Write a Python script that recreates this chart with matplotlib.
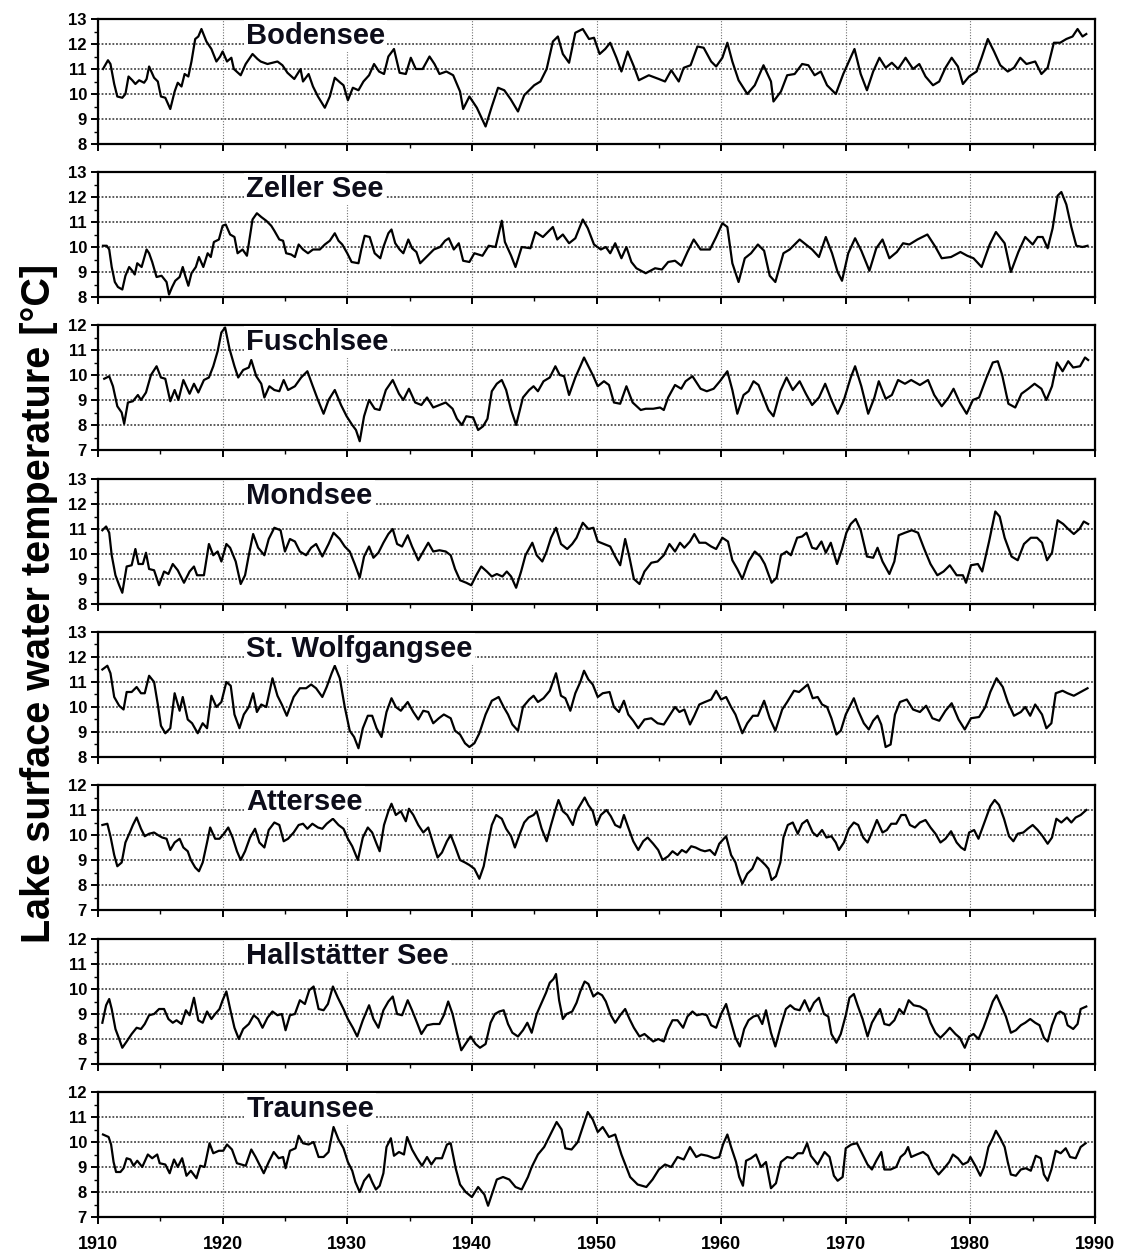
import matplotlib
matplotlib.use("Agg")
import matplotlib.pyplot as plt
from matplotlib.ticker import MultipleLocator

plt.rcParams['font.family'] = ['Liberation Sans', 'DejaVu Sans']

# ---- data (year, smoothed surface temperature in deg C) ----
bod_years = [1910.4, 1910.8, 1911.0, 1911.3, 1911.55, 1911.95, 1912.2, 1912.45, 1912.75, 1913.0,
             1913.3, 1913.7, 1913.9, 1914.1, 1914.5, 1914.8, 1915.05, 1915.4, 1915.8, 1916.15,
             1916.4, 1916.7, 1916.95, 1917.25, 1917.5, 1917.8, 1918.05, 1918.3, 1918.7, 1919.1,
             1919.5, 1919.8, 1920.0, 1920.35, 1920.7, 1920.9, 1921.45, 1921.85, 1922.4, 1922.8,
             1923.05, 1923.6, 1924.4, 1924.8, 1925.2, 1925.75, 1926.25, 1926.45, 1926.9, 1927.25,
             1927.65, 1928.2, 1928.6, 1929.0, 1929.45, 1929.7, 1930.05, 1930.45, 1930.9, 1931.3,
             1931.75, 1932.15, 1932.55, 1932.95, 1933.3, 1933.75, 1934.2, 1934.7, 1935.1, 1935.5,
             1936.05, 1936.6, 1937.0, 1937.4, 1937.95, 1938.5, 1939.05, 1939.3, 1939.8, 1940.4,
             1941.1, 1941.6, 1942.1, 1942.6, 1943.1, 1943.7, 1944.2, 1945.0, 1945.5, 1946.0,
             1946.5, 1946.9, 1947.3, 1947.8, 1948.3, 1948.9, 1949.4, 1949.8, 1950.25, 1950.7,
             1951.1, 1951.6, 1952.0, 1952.5, 1953.0, 1953.4, 1954.2, 1955.0, 1955.5, 1956.0,
             1956.6, 1957.0, 1957.55, 1958.1, 1958.6, 1959.2, 1959.6, 1960.1, 1960.5, 1960.9,
             1961.4, 1962.1, 1962.7, 1963.4, 1964.0, 1964.2, 1964.8, 1965.3, 1965.9, 1966.5,
             1967.0, 1967.5, 1968.0, 1968.5, 1969.2, 1969.8, 1970.3, 1970.7, 1971.2, 1971.7,
             1972.2, 1972.7, 1973.2, 1973.7, 1974.2, 1974.8, 1975.4, 1975.9, 1976.4, 1977.0,
             1977.5, 1978.0, 1978.5, 1979.0, 1979.4, 1979.9, 1980.5, 1980.9, 1981.4, 1981.9,
             1982.4, 1983.0, 1983.5, 1984.0, 1984.5, 1985.2, 1985.7, 1986.2, 1986.7, 1987.2,
             1987.7, 1988.2, 1988.6, 1989.0, 1989.3]
bod_temp = [11.0, 11.35, 11.2, 10.4, 9.9, 9.85, 10.0, 10.7, 10.55, 10.4,
            10.55, 10.45, 10.6, 11.1, 10.65, 10.5, 9.9, 9.85, 9.4, 10.1,
            10.45, 10.3, 10.8, 10.7, 11.3, 12.2, 12.3, 12.6, 12.1, 11.8,
            11.3, 11.5, 11.7, 11.3, 11.45, 11.0, 10.75, 11.2, 11.6, 11.4,
            11.3, 11.2, 11.3, 11.15, 10.85, 10.6, 11.0, 10.5, 10.8, 10.3,
            9.9, 9.45, 9.9, 10.65, 10.45, 10.35, 9.75, 10.25, 10.15, 10.5,
            10.75, 11.2, 10.9, 10.8, 11.5, 11.8, 10.85, 10.8, 11.45, 11.0,
            11.0, 11.5, 11.2, 10.8, 10.9, 10.75, 10.1, 9.4, 9.9, 9.45,
            8.7, 9.5, 10.25, 10.15, 9.8, 9.3, 9.95, 10.35, 10.5, 11.0,
            12.1, 12.3, 11.6, 11.25, 12.45, 12.6, 12.2, 12.25, 11.6, 11.8,
            12.05, 11.45, 10.9, 11.7, 11.1, 10.55, 10.75, 10.6, 10.5, 10.95,
            10.5, 11.05, 11.15, 11.9, 11.85, 11.3, 11.1, 11.45, 12.05, 11.3,
            10.55, 10.0, 10.35, 11.15, 10.5, 9.7, 10.1, 10.75, 10.8, 11.2,
            11.15, 10.75, 10.9, 10.35, 10.0, 10.8, 11.35, 11.8, 10.8, 10.15,
            10.9, 11.45, 11.05, 11.25, 11.0, 11.45, 11.0, 11.2, 10.7, 10.35,
            10.5, 11.05, 11.45, 11.1, 10.4, 10.7, 10.9, 11.45, 12.2, 11.7,
            11.15, 10.9, 11.05, 11.45, 11.2, 11.3, 10.8, 11.05, 12.05, 12.05,
            12.2, 12.3, 12.6, 12.3, 12.4]

zel_years = [1910.4, 1910.7, 1910.9, 1911.1, 1911.35, 1911.6, 1911.95, 1912.2, 1912.5, 1912.75,
             1912.95, 1913.15, 1913.5, 1913.9, 1914.1, 1914.35, 1914.7, 1915.1, 1915.5, 1915.7,
             1915.95, 1916.2, 1916.55, 1916.8, 1917.0, 1917.25, 1917.5, 1917.85, 1918.1, 1918.45,
             1918.8, 1919.05, 1919.3, 1919.7, 1920.0, 1920.25, 1920.6, 1920.95, 1921.2, 1921.6,
             1921.95, 1922.15, 1922.4, 1922.75, 1923.1, 1923.5, 1923.9, 1924.15, 1924.55, 1924.85,
             1925.1, 1925.5, 1925.8, 1926.1, 1926.45, 1926.85, 1927.25, 1927.8, 1928.2, 1928.6,
             1929.0, 1929.3, 1929.6, 1930.0, 1930.35, 1930.9, 1931.15, 1931.4, 1931.8, 1932.2,
             1932.65, 1932.9, 1933.3, 1933.55, 1933.85, 1934.2, 1934.5, 1934.9, 1935.2, 1935.55,
             1935.85, 1936.25, 1936.65, 1936.95, 1937.45, 1937.85, 1938.15, 1938.55, 1938.95, 1939.3,
             1939.8, 1940.2, 1940.85, 1941.35, 1941.9, 1942.4, 1942.65, 1943.15, 1943.5, 1944.0,
             1944.7, 1945.1, 1945.7, 1946.1, 1946.5, 1946.85, 1947.3, 1947.8, 1948.3, 1948.9,
             1949.3, 1949.8, 1950.35, 1950.75, 1951.1, 1951.5, 1952.0, 1952.4, 1952.8, 1953.2,
             1953.95, 1954.7, 1955.25, 1955.75, 1956.3, 1956.8, 1957.3, 1957.8, 1958.35, 1959.1,
             1959.6, 1960.1, 1960.5, 1960.9, 1961.4, 1961.9, 1962.4, 1962.95, 1963.45, 1963.9,
             1964.35, 1965.0, 1965.5, 1966.3, 1966.8, 1967.3, 1967.85, 1968.4, 1968.9, 1969.35,
             1969.7, 1970.2, 1970.75, 1971.25, 1971.9, 1972.45, 1972.95, 1973.5, 1974.1, 1974.6,
             1975.1, 1975.75, 1976.55, 1977.2, 1977.7, 1978.45, 1979.2, 1979.75, 1980.25, 1980.9,
             1981.55, 1982.05, 1982.75, 1983.25, 1983.85, 1984.4, 1985.0, 1985.4, 1985.8, 1986.2,
             1986.6, 1987.0, 1987.3, 1987.7, 1988.1, 1988.5, 1989.0, 1989.4]
zel_temp = [10.05, 10.05, 9.9, 9.2, 8.6, 8.4, 8.3, 8.85, 9.2, 9.05,
            8.9, 9.35, 9.2, 9.9, 9.75, 9.4, 8.8, 8.85, 8.6, 8.1,
            8.4, 8.65, 8.8, 9.2, 8.85, 8.45, 8.95, 9.2, 9.6, 9.2,
            9.75, 9.6, 10.2, 10.3, 10.85, 10.9, 10.5, 10.4, 9.75, 9.9,
            9.65, 10.3, 11.1, 11.35, 11.2, 11.05, 10.85, 10.65, 10.3, 10.25,
            9.75, 9.7, 9.6, 10.1, 9.9, 9.75, 9.9, 9.9, 10.1, 10.25,
            10.55, 10.25, 10.1, 9.75, 9.4, 9.35, 9.95, 10.45, 10.4, 9.75,
            9.55, 10.0, 10.55, 10.7, 10.15, 9.9, 9.75, 10.3, 9.95, 9.8,
            9.35, 9.55, 9.75, 9.9, 10.0, 10.25, 10.35, 9.9, 10.15, 9.45,
            9.4, 9.75, 9.65, 10.05, 10.0, 11.05, 10.2, 9.65, 9.2, 10.0,
            9.95, 10.6, 10.4, 10.6, 10.8, 10.3, 10.5, 10.15, 10.35, 11.1,
            10.75, 10.1, 9.9, 10.0, 9.75, 10.15, 9.55, 10.0, 9.4, 9.15,
            8.95, 9.15, 9.1, 9.4, 9.45, 9.25, 9.8, 10.3, 9.9, 9.9,
            10.4, 10.95, 10.8, 9.35, 8.6, 9.55, 9.75, 10.1, 9.85, 8.85,
            8.6, 9.75, 9.9, 10.3, 10.1, 9.9, 9.6, 10.4, 9.75, 9.0,
            8.65, 9.75, 10.35, 9.85, 9.05, 9.95, 10.3, 9.55, 9.8, 10.15,
            10.1, 10.3, 10.5, 10.0, 9.55, 9.6, 9.8, 9.65, 9.55, 9.2,
            10.1, 10.6, 10.15, 9.0, 9.8, 10.4, 10.1, 10.4, 10.4, 9.95,
            10.75, 12.05, 12.2, 11.7, 10.8, 10.05, 10.0, 10.05]

fus_years = [1910.5, 1910.9, 1911.2, 1911.55, 1911.9, 1912.1, 1912.4, 1912.8, 1913.2, 1913.45,
             1913.85, 1914.25, 1914.7, 1915.05, 1915.4, 1915.8, 1916.15, 1916.45, 1916.85, 1917.35,
             1917.7, 1918.05, 1918.5, 1918.9, 1919.25, 1919.6, 1919.9, 1920.2, 1920.55, 1920.95,
             1921.25, 1921.65, 1922.1, 1922.3, 1922.7, 1923.1, 1923.35, 1923.75, 1924.15, 1924.55,
             1924.9, 1925.25, 1925.8, 1926.3, 1926.8, 1927.2, 1927.65, 1928.1, 1928.5, 1929.0,
             1929.5, 1929.95, 1930.4, 1930.7, 1931.0, 1931.35, 1931.75, 1932.2, 1932.6, 1933.1,
             1933.65, 1934.15, 1934.5, 1934.95, 1935.45, 1935.95, 1936.4, 1936.9, 1937.4, 1937.9,
             1938.45, 1938.8, 1939.2, 1939.55, 1940.1, 1940.5, 1940.9, 1941.25, 1941.6, 1942.0,
             1942.4, 1942.75, 1943.15, 1943.55, 1944.1, 1944.6, 1944.95, 1945.3, 1945.75, 1946.25,
             1946.7, 1947.05, 1947.4, 1947.8, 1948.3, 1948.7, 1949.0, 1949.35, 1949.75, 1950.1,
             1950.6, 1951.0, 1951.4, 1951.9, 1952.4, 1952.9, 1953.55, 1953.95, 1954.55, 1955.1,
             1955.4, 1955.75, 1956.3, 1956.8, 1957.15, 1957.7, 1958.35, 1958.85, 1959.4, 1959.9,
             1960.5, 1960.9, 1961.3, 1961.8, 1962.2, 1962.6, 1963.0, 1963.4, 1963.8, 1964.2,
             1964.75, 1965.25, 1965.75, 1966.3, 1966.8, 1967.3, 1967.85, 1968.35, 1968.85, 1969.35,
             1969.85, 1970.4, 1970.75, 1971.25, 1971.8, 1972.3, 1972.65, 1973.2, 1973.7, 1974.2,
             1974.75, 1975.25, 1975.95, 1976.6, 1977.1, 1977.7, 1978.25, 1978.65, 1979.15, 1979.7,
             1980.2, 1980.7, 1981.3, 1981.8, 1982.2, 1982.55, 1983.05, 1983.6, 1984.1, 1984.65,
             1985.15, 1985.7, 1986.1, 1986.55, 1986.95, 1987.4, 1987.85, 1988.25, 1988.8, 1989.2,
             1989.45]
fus_temp = [9.85, 9.95, 9.55, 8.75, 8.5, 8.05, 8.9, 8.95, 9.2, 9.0,
            9.3, 10.0, 10.35, 9.9, 9.85, 8.95, 9.4, 9.0, 9.8, 9.25,
            9.65, 9.3, 9.8, 9.9, 10.35, 10.95, 11.7, 11.9, 11.05, 10.35,
            9.9, 10.2, 10.3, 10.6, 9.95, 9.65, 9.1, 9.55, 9.4, 9.35,
            9.8, 9.4, 9.55, 9.9, 10.15, 9.6, 9.0, 8.45, 9.0, 9.4,
            8.8, 8.35, 8.0, 7.8, 7.35, 8.35, 9.0, 8.65, 8.6, 9.4,
            9.8, 9.25, 9.0, 9.45, 8.9, 8.8, 9.1, 8.7, 8.8, 8.9,
            8.65, 8.25, 8.0, 8.35, 8.3, 7.8, 7.95, 8.25, 9.35, 9.65,
            9.8, 9.4, 8.6, 8.0, 9.1, 9.4, 9.55, 9.35, 9.75, 9.9,
            10.35, 10.0, 9.95, 9.2, 9.9, 10.35, 10.7, 10.35, 9.95, 9.55,
            9.75, 9.6, 8.9, 8.85, 9.55, 8.9, 8.6, 8.65, 8.65, 8.7,
            8.6, 9.1, 9.6, 9.45, 9.75, 9.95, 9.45, 9.35, 9.45, 9.75,
            10.15, 9.4, 8.45, 9.2, 9.35, 9.75, 9.6, 9.1, 8.6, 8.35,
            9.35, 9.9, 9.4, 9.75, 9.25, 8.8, 9.1, 9.65, 9.0, 8.45,
            9.0, 9.9, 10.35, 9.55, 8.45, 9.1, 9.75, 9.05, 9.2, 9.8,
            9.65, 9.8, 9.6, 9.8, 9.2, 8.75, 9.1, 9.45, 8.9, 8.45,
            9.0, 9.1, 9.9, 10.5, 10.55, 10.0, 8.85, 8.7, 9.25, 9.45,
            9.65, 9.45, 9.0, 9.55, 10.5, 10.15, 10.55, 10.3, 10.35, 10.7,
            10.6]

mon_years = [1910.35, 1910.65, 1910.9, 1911.1, 1911.4, 1911.7, 1911.95, 1912.3, 1912.7, 1913.0,
             1913.25, 1913.6, 1913.85, 1914.1, 1914.5, 1914.9, 1915.3, 1915.65, 1916.0, 1916.4,
             1916.9, 1917.35, 1917.7, 1917.95, 1918.5, 1918.9, 1919.25, 1919.6, 1919.9, 1920.3,
             1920.6, 1921.05, 1921.45, 1921.8, 1922.1, 1922.45, 1922.85, 1923.35, 1923.7, 1924.15,
             1924.65, 1925.0, 1925.4, 1925.8, 1926.2, 1926.7, 1927.1, 1927.5, 1928.0, 1928.5,
             1928.9, 1929.4, 1929.8, 1930.2, 1930.6, 1931.0, 1931.35, 1931.75, 1932.1, 1932.5,
             1932.9, 1933.3, 1933.65, 1934.0, 1934.4, 1934.85, 1935.2, 1935.7, 1936.1, 1936.5,
             1936.9, 1937.4, 1937.9, 1938.3, 1938.65, 1939.05, 1939.55, 1939.95, 1940.35, 1940.75,
             1941.2, 1941.6, 1942.0, 1942.45, 1942.8, 1943.15, 1943.55, 1943.95, 1944.3, 1944.85,
             1945.2, 1945.65, 1946.0, 1946.35, 1946.75, 1947.15, 1947.65, 1948.05, 1948.4, 1948.9,
             1949.35, 1949.75, 1950.1, 1950.6, 1951.1, 1951.5, 1951.9, 1952.3, 1952.65, 1953.0,
             1953.45, 1953.85, 1954.4, 1954.9, 1955.4, 1955.85, 1956.3, 1956.7, 1957.05, 1957.5,
             1957.85, 1958.25, 1958.75, 1959.2, 1959.6, 1960.1, 1960.55, 1960.9, 1961.3, 1961.7,
             1962.2, 1962.7, 1963.15, 1963.5, 1964.05, 1964.45, 1964.8, 1965.25, 1965.6, 1966.1,
             1966.5, 1966.85, 1967.3, 1967.65, 1968.05, 1968.4, 1968.8, 1969.3, 1969.7, 1970.05,
             1970.4, 1970.8, 1971.2, 1971.7, 1972.2, 1972.55, 1972.95, 1973.5, 1973.9, 1974.25,
             1974.75, 1975.3, 1975.8, 1976.3, 1976.8, 1977.35, 1977.85, 1978.35, 1978.9, 1979.4,
             1979.65, 1980.05, 1980.6, 1980.95, 1981.5, 1982.0, 1982.35, 1982.75, 1983.3, 1983.8,
             1984.3, 1984.85, 1985.35, 1985.75, 1986.15, 1986.55, 1987.0, 1987.45, 1987.85, 1988.3,
             1988.75, 1989.1, 1989.45]
mon_temp = [10.95, 11.1, 10.85, 9.95, 9.15, 8.75, 8.45, 9.5, 9.55, 10.2,
            9.6, 9.6, 10.05, 9.4, 9.35, 8.75, 9.3, 9.2, 9.6, 9.35,
            8.85, 9.3, 9.5, 9.15, 9.15, 10.4, 9.95, 10.1, 9.7, 10.4,
            10.25, 9.7, 8.8, 9.15, 9.95, 10.8, 10.25, 9.95, 10.6, 11.05,
            10.95, 10.1, 10.6, 10.5, 10.1, 9.95, 10.25, 10.4, 9.9, 10.4,
            10.85, 10.6, 10.3, 10.1, 9.6, 9.05, 9.9, 10.3, 9.85, 10.05,
            10.45, 10.8, 11.0, 10.4, 10.3, 10.75, 10.3, 9.75, 10.1, 10.45,
            10.1, 10.15, 10.1, 9.95, 9.4, 8.95, 8.85, 8.75, 9.15, 9.5,
            9.3, 9.1, 9.2, 9.1, 9.3, 9.1, 8.65, 9.3, 9.95, 10.45,
            9.95, 9.7, 10.1, 10.65, 11.05, 10.4, 10.2, 10.4, 10.65, 11.25,
            11.0, 11.05, 10.5, 10.4, 10.3, 9.9, 9.55, 10.6, 9.85, 9.0,
            8.8, 9.3, 9.65, 9.7, 9.95, 10.4, 10.1, 10.45, 10.25, 10.5,
            10.8, 10.45, 10.45, 10.3, 10.2, 10.65, 10.5, 9.75, 9.4, 9.0,
            9.7, 10.1, 9.9, 9.6, 8.85, 9.05, 9.95, 10.1, 9.95, 10.65,
            10.7, 10.85, 10.25, 10.2, 10.5, 10.05, 10.45, 9.6, 10.2, 10.85,
            11.2, 11.4, 10.95, 9.9, 9.85, 10.25, 9.7, 9.2, 9.7, 10.75,
            10.85, 10.95, 10.85, 10.2, 9.6, 9.15, 9.3, 9.55, 9.15, 9.15,
            8.85, 9.55, 9.6, 9.3, 10.5, 11.7, 11.5, 10.65, 9.9, 9.75,
            10.4, 10.65, 10.65, 10.45, 9.75, 10.05, 11.35, 11.2, 11.0, 10.8,
            11.0, 11.3, 11.2]

wol_years = [1910.35, 1910.75, 1911.0, 1911.3, 1911.7, 1912.05, 1912.3, 1912.7, 1913.1, 1913.45,
             1913.75, 1914.1, 1914.5, 1914.8, 1915.05, 1915.4, 1915.8, 1916.15, 1916.55, 1916.8,
             1917.2, 1917.55, 1918.0, 1918.4, 1918.75, 1919.1, 1919.5, 1919.9, 1920.3, 1920.65,
             1920.95, 1921.35, 1921.7, 1922.1, 1922.45, 1922.75, 1923.1, 1923.5, 1924.0, 1924.4,
             1924.75, 1925.15, 1925.7, 1926.2, 1926.7, 1927.1, 1927.5, 1928.0, 1928.35, 1928.75,
             1929.0, 1929.4, 1929.8, 1930.2, 1930.55, 1930.9, 1931.25, 1931.65, 1932.0, 1932.35,
             1932.75, 1933.15, 1933.55, 1933.9, 1934.3, 1934.85, 1935.3, 1935.7, 1936.1, 1936.5,
             1936.9, 1937.35, 1937.75, 1938.3, 1938.65, 1939.05, 1939.45, 1939.8, 1940.2, 1940.6,
             1941.1, 1941.6, 1942.15, 1942.55, 1942.9, 1943.25, 1943.7, 1944.1, 1944.6, 1944.95,
             1945.3, 1945.75, 1946.25, 1946.75, 1947.15, 1947.5, 1947.9, 1948.3, 1948.7, 1949.0,
             1949.35, 1949.7, 1950.1, 1950.5, 1951.05, 1951.4, 1951.8, 1952.2, 1952.55, 1952.95,
             1953.35, 1953.85, 1954.4, 1954.9, 1955.4, 1955.85, 1956.3, 1956.65, 1957.05, 1957.5,
             1957.85, 1958.25, 1958.7, 1959.2, 1959.6, 1960.0, 1960.4, 1960.8, 1961.15, 1961.7,
             1962.1, 1962.55, 1962.95, 1963.45, 1963.9, 1964.35, 1964.9, 1965.3, 1965.85, 1966.25,
             1966.6, 1966.95, 1967.35, 1967.75, 1968.1, 1968.5, 1968.85, 1969.25, 1969.6, 1970.0,
             1970.4, 1970.65, 1971.0, 1971.45, 1971.85, 1972.2, 1972.55, 1972.85, 1973.2, 1973.6,
             1973.95, 1974.35, 1974.9, 1975.4, 1975.95, 1976.45, 1976.95, 1977.5, 1978.0, 1978.5,
             1979.05, 1979.55, 1980.05, 1980.7, 1981.2, 1981.6, 1982.1, 1982.6, 1983.0, 1983.5,
             1984.05, 1984.4, 1984.8, 1985.2, 1985.75, 1986.1, 1986.5, 1986.85, 1987.4, 1987.8,
             1988.3, 1988.85, 1989.4]
wol_temp = [11.5, 11.65, 11.35, 10.4, 10.05, 9.9, 10.6, 10.6, 10.8, 10.55,
            10.55, 11.25, 11.0, 10.1, 9.25, 8.95, 9.15, 10.55, 9.85, 10.4,
            9.5, 9.35, 8.95, 9.35, 9.15, 10.45, 10.0, 10.2, 11.0, 10.85,
            9.7, 9.15, 9.7, 10.0, 10.55, 9.8, 10.1, 10.0, 11.15, 10.45,
            10.1, 9.65, 10.4, 10.75, 10.75, 10.9, 10.75, 10.4, 10.8, 11.35,
            11.65, 11.15, 10.0, 9.05, 8.8, 8.35, 9.15, 9.65, 9.65, 9.15,
            8.8, 9.8, 10.35, 10.0, 9.85, 10.2, 9.8, 9.5, 9.85, 9.8,
            9.35, 9.55, 9.7, 9.55, 9.05, 8.9, 8.55, 8.4, 8.55, 8.95,
            9.7, 10.25, 10.4, 10.0, 9.7, 9.3, 9.05, 10.0, 10.3, 10.45,
            10.2, 10.35, 10.65, 11.35, 10.45, 10.35, 9.85, 10.55, 11.0, 11.45,
            11.1, 10.9, 10.4, 10.55, 10.6, 10.0, 9.8, 10.25, 9.7, 9.45,
            9.15, 9.5, 9.55, 9.35, 9.3, 9.65, 10.0, 9.8, 9.9, 9.3,
            9.65, 10.1, 10.2, 10.3, 10.65, 10.3, 10.4, 10.0, 9.7, 8.95,
            9.35, 9.65, 9.65, 10.25, 9.55, 9.05, 9.9, 10.2, 10.65, 10.6,
            10.75, 10.9, 10.35, 10.4, 10.1, 10.0, 9.55, 8.9, 9.05, 9.7,
            10.1, 10.35, 9.85, 9.35, 9.1, 9.45, 9.65, 9.3, 8.4, 8.5,
            9.7, 10.2, 10.3, 9.9, 9.8, 10.05, 9.55, 9.45, 9.85, 10.15,
            9.5, 9.1, 9.55, 9.6, 10.0, 10.6, 11.15, 10.8, 10.2, 9.65,
            9.8, 10.0, 9.65, 10.1, 9.7, 9.15, 9.35, 10.55, 10.65, 10.55,
            10.45, 10.6, 10.75]

att_years = [1910.35, 1910.75, 1911.0, 1911.3, 1911.55, 1911.9, 1912.2, 1912.55, 1912.8, 1913.1,
             1913.45, 1913.75, 1914.1, 1914.5, 1914.8, 1915.15, 1915.5, 1915.8, 1916.15, 1916.55,
             1916.85, 1917.2, 1917.45, 1917.8, 1918.1, 1918.4, 1918.75, 1919.0, 1919.4, 1919.75,
             1920.1, 1920.45, 1920.8, 1921.15, 1921.45, 1921.8, 1922.2, 1922.6, 1922.95, 1923.35,
             1923.7, 1924.15, 1924.55, 1924.9, 1925.25, 1925.7, 1926.1, 1926.45, 1926.8, 1927.2,
             1927.65, 1928.0, 1928.35, 1928.85, 1929.3, 1929.7, 1930.05, 1930.4, 1930.85, 1931.25,
             1931.65, 1932.0, 1932.35, 1932.6, 1932.95, 1933.3, 1933.55, 1933.9, 1934.3, 1934.7,
             1934.95, 1935.3, 1935.7, 1936.1, 1936.5, 1936.9, 1937.25, 1937.6, 1938.0, 1938.3,
             1938.65, 1939.05, 1939.45, 1939.8, 1940.2, 1940.6, 1940.95, 1941.25, 1941.6, 1941.95,
             1942.4, 1942.75, 1943.15, 1943.45, 1943.85, 1944.2, 1944.55, 1944.95, 1945.2, 1945.6,
             1946.0, 1946.35, 1946.7, 1946.95, 1947.3, 1947.65, 1948.1, 1948.4, 1948.7, 1949.05,
             1949.35, 1949.7, 1950.0, 1950.35, 1950.8, 1951.15, 1951.5, 1951.9, 1952.2, 1952.55,
             1952.95, 1953.35, 1953.75, 1954.1, 1954.55, 1954.95, 1955.3, 1955.75, 1956.1, 1956.5,
             1956.85, 1957.2, 1957.6, 1957.95, 1958.35, 1958.7, 1959.1, 1959.5, 1959.85, 1960.4,
             1960.8, 1961.15, 1961.4, 1961.7, 1962.1, 1962.5, 1962.9, 1963.15, 1963.55, 1963.8,
             1964.05, 1964.4, 1964.75, 1965.0, 1965.35, 1965.75, 1966.15, 1966.5, 1966.9, 1967.35,
             1967.7, 1968.1, 1968.45, 1968.85, 1969.2, 1969.45, 1969.85, 1970.25, 1970.65, 1971.0,
             1971.4, 1971.75, 1972.1, 1972.5, 1972.95, 1973.3, 1973.65, 1974.05, 1974.45, 1974.8,
             1975.15, 1975.55, 1975.95, 1976.4, 1976.8, 1977.2, 1977.6, 1978.0, 1978.45, 1978.9,
             1979.25, 1979.55, 1979.9, 1980.3, 1980.65, 1981.2, 1981.6, 1981.95, 1982.3, 1982.7,
             1983.1, 1983.45, 1983.8, 1984.25, 1984.6, 1985.0, 1985.4, 1985.8, 1986.2, 1986.55,
             1986.9, 1987.3, 1987.75, 1988.1, 1988.45, 1988.85, 1989.3]
att_temp = [10.4, 10.45, 9.95, 9.2, 8.75, 8.9, 9.7, 10.1, 10.4, 10.7,
            10.25, 9.95, 10.05, 10.1, 10.0, 9.9, 9.85, 9.4, 9.7, 9.85,
            9.5, 9.35, 9.0, 8.7, 8.55, 8.9, 9.7, 10.3, 9.85, 9.85,
            10.05, 10.3, 9.9, 9.35, 9.0, 9.35, 9.9, 10.25, 9.7, 9.5,
            10.2, 10.5, 10.4, 9.75, 9.85, 10.1, 10.4, 10.45, 10.25, 10.45,
            10.3, 10.25, 10.45, 10.65, 10.4, 10.25, 9.85, 9.55, 9.0, 9.9,
            10.3, 10.1, 9.65, 9.35, 10.4, 10.95, 11.25, 10.8, 10.95, 10.55,
            11.05, 10.8, 10.4, 10.1, 10.3, 9.65, 9.1, 9.3, 9.75, 10.0,
            9.55, 9.0, 8.9, 8.8, 8.65, 8.25, 8.75, 9.55, 10.4, 10.8,
            10.65, 10.25, 9.95, 9.5, 10.05, 10.5, 10.7, 10.8, 10.95, 10.25,
            9.75, 10.4, 11.0, 11.4, 10.95, 10.8, 10.4, 10.95, 11.2, 11.5,
            11.2, 10.95, 10.4, 10.8, 11.0, 10.75, 10.4, 10.3, 10.8, 10.3,
            9.75, 9.4, 9.75, 9.9, 9.65, 9.4, 9.0, 9.15, 9.35, 9.2,
            9.4, 9.3, 9.55, 9.5, 9.4, 9.35, 9.4, 9.2, 9.65, 9.95,
            9.2, 8.9, 8.45, 8.05, 8.45, 8.65, 9.1, 9.0, 8.8, 8.65,
            8.2, 8.35, 8.9, 9.9, 10.4, 10.5, 10.05, 10.45, 10.6, 10.1,
            9.95, 10.2, 9.9, 9.95, 9.7, 9.4, 9.7, 10.25, 10.5, 10.4,
            9.9, 9.7, 10.1, 10.6, 10.1, 10.2, 10.45, 10.45, 10.8, 10.8,
            10.4, 10.3, 10.5, 10.6, 10.3, 10.05, 9.7, 9.85, 10.15, 9.7,
            9.5, 9.4, 10.1, 10.2, 9.85, 10.6, 11.15, 11.4, 11.2, 10.65,
            9.95, 9.75, 10.05, 10.1, 10.25, 10.4, 10.2, 9.95, 9.65, 9.9,
            10.65, 10.5, 10.7, 10.5, 10.7, 10.8, 11.0]

hal_years = [1910.35, 1910.65, 1910.9, 1911.1, 1911.4, 1911.7, 1911.95, 1912.3, 1912.7, 1913.1,
             1913.45, 1913.75, 1914.1, 1914.5, 1914.9, 1915.3, 1915.65, 1916.0, 1916.3, 1916.7,
             1917.05, 1917.35, 1917.7, 1918.05, 1918.4, 1918.75, 1919.1, 1919.4, 1919.75, 1920.0,
             1920.3, 1920.65, 1920.95, 1921.3, 1921.65, 1922.1, 1922.5, 1922.85, 1923.2, 1923.6,
             1924.0, 1924.4, 1924.75, 1925.05, 1925.4, 1925.8, 1926.2, 1926.6, 1926.95, 1927.3,
             1927.7, 1928.1, 1928.45, 1928.85, 1929.25, 1929.7, 1930.05, 1930.45, 1930.8, 1931.25,
             1931.75, 1932.1, 1932.5, 1932.9, 1933.3, 1933.65, 1934.0, 1934.4, 1934.85, 1935.2,
             1935.6, 1935.95, 1936.4, 1936.9, 1937.4, 1937.75, 1938.1, 1938.45, 1938.8, 1939.15,
             1939.55, 1939.9, 1940.3, 1940.65, 1941.1, 1941.5, 1941.85, 1942.2, 1942.55, 1942.9,
             1943.25, 1943.7, 1944.1, 1944.45, 1944.8, 1945.2, 1945.6, 1945.95, 1946.25, 1946.55,
             1946.75, 1947.0, 1947.3, 1947.6, 1948.05, 1948.4, 1948.7, 1949.05, 1949.35, 1949.75,
             1950.1, 1950.45, 1950.75, 1951.15, 1951.5, 1951.9, 1952.3, 1952.65, 1953.0, 1953.45,
             1953.85, 1954.2, 1954.55, 1954.95, 1955.4, 1955.75, 1956.1, 1956.5, 1956.95, 1957.3,
             1957.7, 1958.05, 1958.5, 1958.85, 1959.2, 1959.6, 1960.0, 1960.4, 1960.75, 1961.15,
             1961.5, 1961.85, 1962.2, 1962.6, 1962.95, 1963.3, 1963.6, 1964.0, 1964.35, 1964.75,
             1965.2, 1965.55, 1965.9, 1966.3, 1966.7, 1967.1, 1967.45, 1967.85, 1968.25, 1968.6,
             1968.85, 1969.25, 1969.6, 1970.0, 1970.3, 1970.65, 1970.95, 1971.35, 1971.75, 1972.1,
             1972.5, 1972.75, 1973.1, 1973.5, 1973.9, 1974.3, 1974.65, 1975.05, 1975.45, 1975.95,
             1976.45, 1976.8, 1977.2, 1977.6, 1978.0, 1978.35, 1978.8, 1979.15, 1979.55, 1979.9,
             1980.25, 1980.65, 1981.05, 1981.45, 1981.8, 1982.1, 1982.45, 1982.85, 1983.25, 1983.65,
             1984.05, 1984.4, 1984.8, 1985.2, 1985.55, 1985.9, 1986.2, 1986.55, 1986.9, 1987.2,
             1987.55, 1987.8, 1988.25, 1988.6, 1988.85, 1989.3]
hal_temp = [8.65, 9.35, 9.6, 9.2, 8.4, 8.0, 7.65, 7.9, 8.2, 8.45,
            8.4, 8.6, 8.95, 9.0, 9.2, 9.2, 8.8, 8.65, 8.75, 8.6,
            9.15, 8.95, 9.65, 8.75, 8.65, 9.1, 8.8, 9.0, 9.2, 9.55,
            9.9, 9.1, 8.45, 8.0, 8.4, 8.6, 8.95, 8.8, 8.45, 8.85,
            9.1, 8.95, 9.0, 8.35, 8.95, 9.0, 9.55, 9.4, 9.95, 10.1,
            9.2, 9.15, 9.4, 10.1, 9.65, 9.2, 8.8, 8.45, 8.1, 8.75,
            9.35, 8.8, 8.45, 9.15, 9.5, 9.7, 9.0, 8.95, 9.55, 9.15,
            8.65, 8.2, 8.55, 8.6, 8.6, 8.95, 9.5, 9.0, 8.25, 7.55,
            7.85, 8.1, 7.8, 7.65, 7.8, 8.65, 9.0, 9.1, 9.15, 8.6,
            8.25, 8.1, 8.35, 8.65, 8.25, 9.0, 9.45, 9.85, 10.25, 10.4,
            10.6, 9.55, 8.8, 9.0, 9.1, 9.45, 9.9, 10.3, 10.2, 9.7,
            9.85, 9.75, 9.5, 8.95, 8.65, 8.95, 9.2, 8.8, 8.45, 8.1,
            8.2, 8.05, 7.9, 8.0, 7.9, 8.4, 8.75, 8.75, 8.45, 8.9,
            9.1, 8.95, 9.0, 8.95, 8.55, 8.45, 9.0, 9.4, 8.75, 8.05,
            7.7, 8.4, 8.75, 8.9, 8.95, 8.6, 9.15, 8.25, 7.7, 8.45,
            9.2, 9.35, 9.2, 9.15, 9.55, 9.1, 9.45, 9.65, 9.0, 8.9,
            8.2, 7.85, 8.2, 8.95, 9.65, 9.8, 9.35, 8.8, 8.1, 8.65,
            9.0, 9.2, 8.6, 8.55, 8.75, 9.2, 9.0, 9.55, 9.35, 9.3,
            9.15, 8.65, 8.25, 8.05, 8.25, 8.45, 8.2, 8.05, 7.65, 8.1,
            8.2, 8.0, 8.45, 9.0, 9.5, 9.75, 9.35, 8.9, 8.25, 8.35,
            8.55, 8.65, 8.8, 8.65, 8.55, 8.05, 7.9, 8.55, 9.0, 9.1,
            9.0, 8.55, 8.4, 8.6, 9.2, 9.3]

tra_years = [1910.4, 1910.85, 1911.05, 1911.25, 1911.45, 1911.8, 1912.05, 1912.3, 1912.6, 1912.85,
             1913.15, 1913.55, 1914.0, 1914.35, 1914.75, 1914.95, 1915.4, 1915.75, 1916.1, 1916.4,
             1916.75, 1917.1, 1917.45, 1917.9, 1918.2, 1918.55, 1918.95, 1919.25, 1919.7, 1920.05,
             1920.35, 1920.75, 1921.15, 1921.85, 1922.3, 1922.65, 1923.0, 1923.3, 1923.7, 1924.1,
             1924.5, 1924.85, 1925.05, 1925.4, 1925.85, 1926.1, 1926.45, 1926.9, 1927.3, 1927.7,
             1928.1, 1928.5, 1928.9, 1929.3, 1929.7, 1930.05, 1930.4, 1930.65, 1931.0, 1931.35,
             1931.75, 1932.0, 1932.3, 1932.6, 1932.9, 1933.15, 1933.5, 1933.75, 1934.15, 1934.55,
             1934.8, 1935.2, 1935.6, 1936.0, 1936.4, 1936.75, 1937.1, 1937.6, 1938.0, 1938.3,
             1938.7, 1939.05, 1939.5, 1940.0, 1940.5, 1941.0, 1941.3, 1942.0, 1942.5, 1943.0,
             1943.5, 1944.0, 1944.5, 1944.8, 1945.3, 1945.8, 1946.3, 1946.8, 1947.2, 1947.5,
             1948.0, 1948.5, 1949.3, 1949.7, 1950.1, 1950.5, 1951.0, 1951.5, 1952.0, 1952.7,
             1953.3, 1954.0, 1954.5, 1955.0, 1955.5, 1956.0, 1956.5, 1957.0, 1957.5, 1958.0,
             1958.4, 1958.9, 1959.45, 1959.85, 1960.15, 1960.5, 1960.8, 1961.2, 1961.45, 1961.75,
             1962.0, 1962.4, 1962.8, 1963.2, 1963.6, 1964.0, 1964.4, 1964.8, 1965.3, 1965.75,
             1966.15, 1966.55, 1966.9, 1967.2, 1967.75, 1968.3, 1968.7, 1969.05, 1969.35, 1969.75,
             1970.0, 1970.45, 1970.9, 1971.3, 1971.75, 1972.1, 1972.45, 1972.85, 1973.1, 1973.6,
             1974.05, 1974.4, 1974.75, 1975.0, 1975.25, 1975.7, 1976.2, 1976.6, 1977.0, 1977.45,
             1977.9, 1978.3, 1978.6, 1979.0, 1979.4, 1979.8, 1980.0, 1980.4, 1980.8, 1981.1,
             1981.45, 1981.8, 1982.05, 1982.4, 1982.75, 1983.0, 1983.25, 1983.65, 1984.05, 1984.45,
             1984.85, 1985.25, 1985.65, 1985.9, 1986.2, 1986.5, 1986.85, 1987.25, 1987.65, 1988.0,
             1988.45, 1988.85, 1989.25]
tra_temp = [10.3, 10.2, 9.9, 9.2, 8.8, 8.8, 8.95, 9.35, 9.3, 9.05,
            9.25, 9.0, 9.5, 9.35, 9.5, 9.15, 9.1, 8.75, 9.3, 9.0,
            9.35, 8.65, 8.85, 8.55, 9.05, 9.0, 9.95, 9.55, 9.65, 9.65,
            9.9, 9.7, 9.15, 9.05, 9.7, 9.4, 9.05, 8.75, 9.2, 9.6,
            9.35, 9.4, 8.95, 9.65, 9.75, 10.25, 9.95, 9.9, 10.0, 9.4,
            9.4, 9.6, 10.6, 10.1, 9.75, 9.2, 8.85, 8.4, 8.0, 8.45,
            8.7, 8.4, 8.1, 8.25, 8.75, 9.8, 10.15, 9.45, 9.6, 9.5,
            10.2, 9.7, 9.35, 9.05, 9.4, 9.1, 9.35, 9.35, 9.9, 9.95,
            8.95, 8.3, 8.0, 7.8, 8.2, 7.9, 7.45, 8.5, 8.6, 8.5,
            8.2, 8.1, 8.6, 9.0, 9.5, 9.8, 10.3, 10.8, 10.5, 9.75,
            9.7, 10.0, 11.2, 10.9, 10.4, 10.6, 10.2, 10.3, 9.5, 8.6,
            8.3, 8.2, 8.5, 8.9, 9.1, 9.0, 9.4, 9.3, 9.8, 9.4,
            9.5, 9.45, 9.35, 9.4, 9.9, 10.3, 9.8, 9.2, 8.6, 8.25,
            9.25, 9.35, 9.5, 9.0, 9.2, 8.15, 8.35, 9.2, 9.4, 9.35,
            9.55, 9.55, 9.95, 9.45, 9.1, 9.6, 9.4, 8.65, 8.45, 8.6,
            9.75, 9.9, 9.95, 9.55, 9.1, 8.9, 9.25, 9.6, 8.9, 8.9,
            9.0, 9.4, 9.55, 9.8, 9.4, 9.5, 9.6, 9.45, 9.0, 8.7,
            8.95, 9.2, 9.5, 9.35, 9.1, 9.2, 9.4, 9.05, 8.65, 9.0,
            9.8, 10.15, 10.45, 10.15, 9.8, 9.2, 8.7, 8.65, 8.9, 8.95,
            8.85, 9.45, 9.35, 8.7, 8.45, 8.9, 9.65, 9.55, 9.75, 9.4,
            9.35, 9.8, 9.95]

lakes = ["Bodensee", "Zeller See", "Fuschlsee", "Mondsee",
         "St. Wolfgangsee", "Attersee", "Hallstätter See", "Traunsee"]
series = [(bod_years, bod_temp), (zel_years, zel_temp), (fus_years, fus_temp),
          (mon_years, mon_temp), (wol_years, wol_temp), (att_years, att_temp),
          (hal_years, hal_temp), (tra_years, tra_temp)]
y_lower = [8, 8, 7, 8, 8, 7, 7, 7]

# ---- layout (pixel positions of each panel in the 1121 x 1257 figure) ----
W, H = 1121, 1257
tops = [19, 172, 325, 479, 632, 785, 939, 1092]
panel_h = 125
left_px, right_px = 98, 1095

fig = plt.figure(figsize=(W / 100, H / 100), dpi=100)

for i, name in enumerate(lakes):
    bottom = 1 - (tops[i] + panel_h) / H
    ax = fig.add_axes([left_px / W, bottom, (right_px - left_px) / W, panel_h / H])
    yrs, tmp = series[i]
    lo = y_lower[i]
    ax.plot(yrs, tmp, color='black', lw=1.6, zorder=3)
    ax.set_xlim(1910, 1990)
    ax.set_ylim(lo, lo + 5)

    ax.xaxis.set_major_locator(MultipleLocator(10))
    ax.xaxis.set_minor_locator(MultipleLocator(5))
    ax.yaxis.set_major_locator(MultipleLocator(1))
    ax.yaxis.set_minor_locator(MultipleLocator(0.5))

    # horizontal gridlines at each degree, vertical at each decade
    ax.grid(True, axis='y', which='major', color='0.3', lw=1.3, ls=(0, (1, 1)), zorder=1)
    ax.grid(True, axis='x', which='major', color='0.45', lw=0.8, ls=(0, (1, 1.5)), zorder=1)

    for s in ax.spines.values():
        s.set_linewidth(1.6)
    ax.tick_params(axis='both', which='major', direction='out', length=5, width=1.4,
                   labelsize=12, pad=3)
    ax.tick_params(axis='both', which='minor', direction='out', length=3, width=1.0)
    ax.tick_params(axis='x', labelsize=13, pad=9)
    for lab in ax.get_yticklabels():
        lab.set_fontweight('bold')
    if i < len(lakes) - 1:
        ax.set_xticklabels([])
    else:
        for lab in ax.get_xticklabels():
            lab.set_fontweight('bold')

    ax.text(1921.9, lo + 4, name, fontsize=21, fontweight='bold', color='#0d0d1a',
            ha='left', va='baseline', zorder=4,
            bbox=dict(facecolor='white', edgecolor='none', pad=1.5))

fig.text(0.035, 0.52, "Lake surface water temperature [°C]", rotation=90,
         fontsize=28.5, fontweight='bold', ha='center', va='center')

fig.savefig('out.png', dpi=100)
plt.close(fig)
